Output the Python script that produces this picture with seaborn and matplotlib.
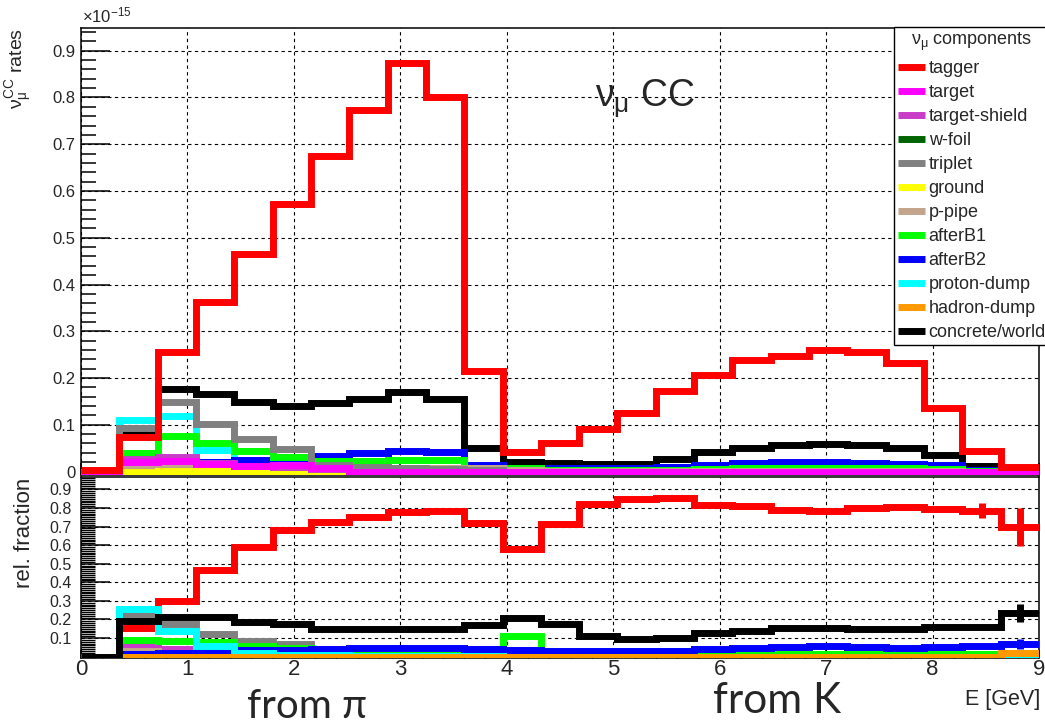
import numpy as np
import pandas as pd
import matplotlib
matplotlib.use("Agg")
import matplotlib.pyplot as plt
import seaborn as sns
from matplotlib.lines import Line2D
from matplotlib.ticker import MultipleLocator, FuncFormatter

# ---------------- data ----------------
E_MIN, E_MAX, N_BINS = 0.0, 9.0, 25

components = ["tagger", "target", "target-shield", "w-foil", "triplet", "ground",
              "p-pipe", "afterB1", "afterB2", "proton-dump", "hadron-dump", "concrete/world"]
colors = ["#ff0000", "#ff00ff", "#c83cc8", "#006400", "#808080", "#ffff00",
          "#c4a48a", "#00ff00", "#0000ff", "#00ffff", "#ff9900", "#000000"]

# nu_mu CC rates (units of 1e-15), 25 energy bins
rate_tagger = [0.003, 0.074, 0.256, 0.363, 0.466, 0.573, 0.674, 0.774, 0.873, 0.800, 0.215, 0.041, 0.061,
               0.090, 0.125, 0.173, 0.207, 0.238, 0.246, 0.260, 0.255, 0.233, 0.136, 0.044, 0.009]
rate_target = [0.0, 0.020, 0.022, 0.015, 0.012, 0.013, 0.008, 0.0, 0.0, 0.0, 0.0, 0.0, 0.0,
               0.0, 0.0, 0.0, 0.0, 0.0, 0.0, 0.0, 0.0, 0.0, 0.0, 0.0, 0.0]
rate_target_shield = [0.0, 0.027, 0.032, 0.018, 0.012, 0.009, 0.006, 0.0, 0.0, 0.0, 0.0, 0.0, 0.0,
                      0.0, 0.0, 0.0, 0.0, 0.0, 0.0, 0.0, 0.0, 0.0, 0.0, 0.0, 0.0]
rate_w_foil = [0.0, 0.0, 0.0, 0.0, 0.0, 0.0, 0.0, 0.0, 0.0, 0.0, 0.0, 0.0, 0.0,
               0.0, 0.0, 0.0, 0.0, 0.0, 0.0, 0.0, 0.0, 0.0, 0.0, 0.0, 0.0]
rate_triplet = [0.0, 0.093, 0.149, 0.102, 0.070, 0.049, 0.014, 0.010, 0.008, 0.006, 0.004, 0.0, 0.0,
                0.0, 0.0, 0.0, 0.0, 0.0, 0.0, 0.0, 0.0, 0.0, 0.0, 0.0, 0.0]
rate_ground = [0.0, 0.0, 0.002, 0.002, 0.001, 0.001, 0.001, 0.0, 0.0, 0.0, 0.0, 0.0, 0.0,
               0.0, 0.0, 0.0, 0.0, 0.0, 0.0, 0.0, 0.0, 0.0, 0.0, 0.0, 0.0]
rate_p_pipe = [0.0, 0.014, 0.016, 0.010, 0.009, 0.008, 0.008, 0.008, 0.008, 0.008, 0.007, 0.003, 0.002,
               0.002, 0.002, 0.001, 0.001, 0.001, 0.001, 0.001, 0.001, 0.001, 0.001, 0.0, 0.0]
rate_afterB1 = [0.0, 0.039, 0.075, 0.061, 0.044, 0.030, 0.022, 0.022, 0.024, 0.024, 0.005, 0.008, 0.003,
                0.003, 0.003, 0.004, 0.006, 0.007, 0.008, 0.008, 0.008, 0.007, 0.005, 0.001, 0.0]
rate_afterB2 = [0.0, 0.009, 0.013, 0.020, 0.025, 0.029, 0.034, 0.039, 0.043, 0.041, 0.013, 0.008, 0.007,
                0.007, 0.008, 0.010, 0.013, 0.018, 0.020, 0.020, 0.019, 0.015, 0.013, 0.003, 0.002]
rate_proton_dump = [0.0, 0.111, 0.118, 0.045, 0.012, 0.007, 0.005, 0.004, 0.003, 0.002, 0.001, 0.0, 0.0,
                    0.0, 0.0, 0.0, 0.0, 0.0, 0.0, 0.0, 0.0, 0.0, 0.0, 0.0, 0.0]
rate_hadron_dump = [0.0, 0.0, 0.0, 0.0, 0.0, 0.0, 0.0, 0.0, 0.0, 0.0, 0.0, 0.0, 0.0,
                    0.0, 0.0, 0.0, 0.0, 0.0, 0.0, 0.0, 0.0, 0.0, 0.0, 0.0, 0.001]
rate_concrete = [0.0, 0.085, 0.176, 0.166, 0.149, 0.141, 0.146, 0.156, 0.171, 0.156, 0.051, 0.021, 0.018,
                 0.016, 0.017, 0.027, 0.041, 0.050, 0.056, 0.059, 0.056, 0.050, 0.035, 0.011, 0.003]

# relative fractions, 25 energy bins
frac_tagger = [0.0, 0.154, 0.300, 0.468, 0.588, 0.682, 0.726, 0.753, 0.777, 0.786, 0.721, 0.578, 0.715,
               0.821, 0.846, 0.856, 0.817, 0.808, 0.790, 0.785, 0.798, 0.807, 0.793, 0.785, 0.697]
frac_target = [0.0, 0.040, 0.025, 0.018, 0.014, 0.014, 0.010, 0.0, 0.0, 0.0, 0.0, 0.0, 0.0,
               0.0, 0.0, 0.0, 0.0, 0.0, 0.0, 0.0, 0.0, 0.0, 0.0, 0.0, 0.0]
frac_target_shield = [0.0, 0.055, 0.040, 0.022, 0.015, 0.012, 0.008, 0.0, 0.0, 0.0, 0.0, 0.0, 0.0,
                      0.0, 0.0, 0.0, 0.0, 0.0, 0.0, 0.0, 0.0, 0.0, 0.0, 0.0, 0.0]
frac_w_foil = [0.0, 0.0, 0.0, 0.0, 0.0, 0.0, 0.0, 0.0, 0.0, 0.0, 0.0, 0.0, 0.0,
               0.0, 0.0, 0.0, 0.0, 0.0, 0.0, 0.0, 0.0, 0.0, 0.0, 0.0, 0.0]
frac_triplet = [0.0, 0.222, 0.174, 0.123, 0.084, 0.066, 0.020, 0.014, 0.010, 0.008, 0.006, 0.0, 0.0,
                0.0, 0.0, 0.0, 0.0, 0.0, 0.0, 0.0, 0.0, 0.0, 0.0, 0.0, 0.0]
frac_ground = [0.0, 0.0, 0.003, 0.003, 0.002, 0.002, 0.002, 0.0, 0.0, 0.0, 0.0, 0.0, 0.0,
               0.0, 0.0, 0.0, 0.0, 0.0, 0.0, 0.0, 0.0, 0.0, 0.0, 0.0, 0.0]
frac_p_pipe = [0.0, 0.030, 0.018, 0.013, 0.011, 0.010, 0.009, 0.009, 0.008, 0.008, 0.010, 0.015, 0.010,
               0.006, 0.0, 0.0, 0.0, 0.0, 0.0, 0.0, 0.0, 0.0, 0.0, 0.0, 0.0]
frac_afterB1 = [0.0, 0.087, 0.085, 0.078, 0.058, 0.045, 0.032, 0.028, 0.027, 0.027, 0.030, 0.109, 0.030,
                0.012, 0.012, 0.012, 0.014, 0.016, 0.016, 0.016, 0.016, 0.016, 0.014, 0.012, 0.010]
frac_afterB2 = [0.0, 0.015, 0.022, 0.030, 0.035, 0.038, 0.042, 0.045, 0.045, 0.045, 0.040, 0.035, 0.030,
                0.028, 0.028, 0.030, 0.040, 0.048, 0.052, 0.055, 0.050, 0.046, 0.052, 0.058, 0.068]
frac_proton_dump = [0.0, 0.256, 0.138, 0.056, 0.020, 0.010, 0.007, 0.005, 0.003, 0.003, 0.002, 0.0, 0.0,
                    0.0, 0.0, 0.0, 0.0, 0.0, 0.0, 0.0, 0.0, 0.0, 0.0, 0.0, 0.0]
frac_hadron_dump = [0.0, 0.0, 0.0, 0.0, 0.0, 0.0, 0.0, 0.0, 0.0, 0.0, 0.0, 0.0, 0.0,
                    0.0, 0.0, 0.0, 0.0, 0.0, 0.0, 0.0, 0.0, 0.0, 0.0, 0.0, 0.020]
frac_concrete = [0.0, 0.192, 0.211, 0.211, 0.184, 0.174, 0.151, 0.146, 0.146, 0.150, 0.168, 0.210, 0.174,
                 0.111, 0.096, 0.101, 0.125, 0.140, 0.154, 0.154, 0.148, 0.148, 0.160, 0.160, 0.235]

# statistical errors on the fractions in the two highest-energy bins
N_ERR_BINS = 2
frac_err_tagger = [0.040, 0.103]
frac_err_concrete = [0.010, 0.050]
frac_err_afterB2 = [0.006, 0.025]

rates = [rate_tagger, rate_target, rate_target_shield, rate_w_foil, rate_triplet, rate_ground,
         rate_p_pipe, rate_afterB1, rate_afterB2, rate_proton_dump, rate_hadron_dump, rate_concrete]
fracs = [frac_tagger, frac_target, frac_target_shield, frac_w_foil, frac_triplet, frac_ground,
         frac_p_pipe, frac_afterB1, frac_afterB2, frac_proton_dump, frac_hadron_dump, frac_concrete]

edges = np.linspace(E_MIN, E_MAX, N_BINS + 1)
centers = 0.5 * (edges[:-1] + edges[1:])

rows = []
for comp, r, f in zip(components, rates, fracs):
    for e, rv, fv in zip(centers, r, f):
        rows.append({"E": e, "component": comp, "rate": rv, "frac": fv})
df = pd.DataFrame(rows)
palette = dict(zip(components, colors))

# ---------------- style ----------------
sns.set_theme(style="white")
plt.rcParams["font.family"] = ["Liberation Sans", "DejaVu Sans"]
plt.rcParams["mathtext.fontset"] = "custom"
plt.rcParams["mathtext.rm"] = "Liberation Sans"
plt.rcParams["mathtext.it"] = "Liberation Sans"
plt.rcParams["mathtext.bf"] = "Liberation Sans:bold"
plt.rcParams["lines.solid_joinstyle"] = "miter"
plt.rcParams["lines.solid_capstyle"] = "butt"

W, H = 1045, 723
fig = plt.figure(figsize=(W / 100, H / 100), dpi=100)
fig.patch.set_facecolor("white")


def fx(x):
    return x / W


def fy(y):
    return 1 - y / H


ax1 = fig.add_axes([fx(81), fy(474.5), fx(1039) - fx(81), fy(28.3) - fy(474.5)])
ax2 = fig.add_axes([fx(81), fy(658), fx(1039) - fx(81), fy(477.3) - fy(658)])

LW = 5.0
# top panel: draw concrete first, tagger last (on top)
for comp in components[::-1]:
    sub = df[df["component"] == comp]
    if sub["rate"].sum() == 0:
        continue
    sns.histplot(data=sub, x="E", weights="rate", bins=N_BINS, binrange=(E_MIN, E_MAX),
                 element="step", fill=False, color=palette[comp], linewidth=LW, ax=ax1, zorder=3)
# bottom panel: tagger first, concrete last
for comp in components:
    sub = df[df["component"] == comp]
    if sub["frac"].sum() == 0:
        continue
    sns.histplot(data=sub, x="E", weights="frac", bins=N_BINS, binrange=(E_MIN, E_MAX),
                 element="step", fill=False, color=palette[comp], linewidth=LW, ax=ax2, zorder=3)

err_x = centers[-N_ERR_BINS:]
for comp, vals, errs in [("tagger", frac_tagger, frac_err_tagger),
                         ("afterB2", frac_afterB2, frac_err_afterB2),
                         ("concrete/world", frac_concrete, frac_err_concrete)]:
    ax2.errorbar(err_x, vals[-N_ERR_BINS:], yerr=errs, fmt="none", ecolor=palette[comp],
                 elinewidth=LW, capsize=0, zorder=4)

# ---------------- axes ----------------
for ax in (ax1, ax2):
    ax.set_xlim(E_MIN, E_MAX)
    ax.set_xlabel("")
    ax.set_ylabel("")
    ax.set_facecolor("white")
    ax.xaxis.set_major_locator(MultipleLocator(1))
    ax.xaxis.set_minor_locator(MultipleLocator(0.2))
    ax.grid(True, which="major", color="black", linestyle=(0, (3, 3)), linewidth=0.8)
    ax.set_axisbelow(True)
    for s in ax.spines.values():
        s.set_color("black")
        s.set_linewidth(1.1)
    ax.tick_params(which="both", direction="in", left=True, bottom=True, top=False,
                   right=False, color="black")

ax1.set_ylim(-0.0064, 0.948)
ax1.set_yticks(np.arange(0, 0.95, 0.1))
ax1.yaxis.set_minor_locator(MultipleLocator(0.02))
ax1.yaxis.set_major_formatter(FuncFormatter(lambda v, _: "0" if abs(v) < 1e-9 else f"{v:.1f}"))
ax1.tick_params(axis="y", which="major", length=21, width=1.1, labelsize=12, pad=4)
ax1.tick_params(axis="y", which="minor", length=10.5, width=1.1)
ax1.tick_params(axis="x", which="major", length=9, width=1.1, labelbottom=False)
ax1.tick_params(axis="x", which="minor", length=5, width=1.1)

ax2.set_ylim(-0.0075, 0.965)
ax2.set_yticks(np.arange(0.1, 0.95, 0.1))
ax2.yaxis.set_minor_locator(MultipleLocator(0.01))
ax2.yaxis.set_major_formatter(FuncFormatter(lambda v, _: f"{v:.1f}"))
ax2.tick_params(axis="y", which="major", length=21, width=1.1, labelsize=11.5, pad=7)
ax2.tick_params(axis="y", which="minor", length=10, width=1.0)
ax2.tick_params(axis="x", which="major", length=6, width=1.1, labelsize=16, pad=1)
ax2.tick_params(axis="x", which="minor", length=3, width=1.0)

# ---------------- texts ----------------
fig.text(fx(82), fy(22), r"$\times10^{-15}$", fontsize=12, ha="left", va="baseline")
fig.text(fx(19), fy(28), r"$\nu_{\mu}^{\mathrm{CC}}$ rates", rotation=90, fontsize=14,
         ha="center", va="top")
fig.text(fx(25), fy(478), "rel. fraction", rotation=90, fontsize=16, ha="center", va="top")
fig.text(fx(1040), fy(705), "E [GeV]", fontsize=15.5, ha="right", va="baseline")
fig.text(fx(595), fy(107), r"$\nu_{\mu}$ CC", fontsize=27, ha="left", va="baseline")
fig.text(fx(247), fy(718), "from π", fontsize=29, ha="left", va="baseline",
         family=["Lato", "DejaVu Sans"])
fig.text(fx(713), fy(713), "from K", fontsize=30.5, ha="left", va="baseline",
         family=["Lato", "DejaVu Sans"])

handles = [Line2D([0], [0], color=c, lw=5, solid_capstyle="butt") for c in colors]
leg = fig.legend(handles, components, loc="upper left",
                 bbox_to_anchor=(fx(894), fy(27)), bbox_transform=fig.transFigure,
                 frameon=True, fancybox=False, shadow=False, framealpha=1,
                 edgecolor="black", borderpad=0.2, borderaxespad=0,
                 handlelength=1.5, handletextpad=0.22, labelspacing=0.39,
                 fontsize=13, title=r"$\nu_{\mu}$ components", title_fontsize=13)
leg.get_frame().set_linewidth(1.0)

fig.savefig("out.png", dpi=100)
